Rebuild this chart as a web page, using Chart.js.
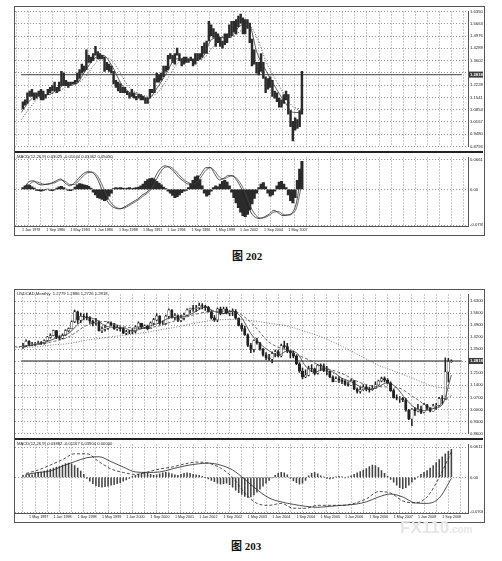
<!DOCTYPE html>
<html>
<head>
<meta charset="utf-8">
<script src="https://cdn.jsdelivr.net/npm/chart.js@4.4.0/dist/chart.umd.min.js"></script>
<style>
  body { margin: 0; background: #fff; width: 502px; height: 561px; position: relative; overflow: hidden; }
  canvas { position: absolute; }
  .frame { position: absolute; border: 1px solid #555; }
  .sep { position: absolute; background: #222; }
  .cap { position: absolute; font: bold 11px "Liberation Serif", "Noto Sans CJK SC", serif; color: #111; white-space: nowrap; }
  .wm { position: absolute; font: bold 17px "Liberation Sans", sans-serif; color: #e6e6e6; white-space: nowrap; }
</style>
</head>
<body>

<div class="frame" style="left:14px;top:6px;width:469px;height:228px"></div>
<canvas id="price1" width="468" height="144" style="left:15px;top:7px"></canvas>
<div class="sep" style="left:15px;top:151px;width:468px;height:2px"></div>
<canvas id="macd1" width="468" height="81" style="left:15px;top:153px"></canvas>
<div class="cap" style="left:232px;top:247px">图 202</div>

<div class="frame" style="left:14px;top:289px;width:469px;height:232px"></div>
<canvas id="price2" width="468" height="148" style="left:15px;top:290px"></canvas>
<div class="sep" style="left:15px;top:438px;width:468px;height:2px"></div>
<canvas id="macd2" width="468" height="81" style="left:15px;top:440px"></canvas>
<div class="cap" style="left:231px;top:537px">图 203</div>
<div class="wm" style="left:400px;top:518px">FX110<span style="font-size:10px">.com</span></div>

<script>
// ---- figure 202: USDCAD monthly 1978-2008, read per quarter ----
const q1Low = [
  1.09,1.11,1.12,1.16, 1.16,1.14,1.15,1.16, 1.14,1.14,1.15,1.17, 1.18,1.19,1.19,1.18,
  1.19,1.22,1.22,1.22, 1.21,1.22,1.23,1.23, 1.24,1.26,1.29,1.30, 1.31,1.35,1.35,1.36,
  1.39,1.37,1.37,1.37, 1.30,1.31,1.30,1.29, 1.23,1.21,1.19,1.18, 1.18,1.18,1.17,1.15,
  1.16,1.15,1.14,1.15, 1.14,1.14,1.12,1.12, 1.15,1.18,1.18,1.24, 1.24,1.25,1.27,1.30,
  1.31,1.37,1.35,1.34, 1.39,1.36,1.33,1.34, 1.35,1.35,1.36,1.33, 1.34,1.36,1.37,1.38,
  1.40,1.40,1.47,1.50, 1.49,1.44,1.46,1.44, 1.43,1.45,1.46,1.49, 1.50,1.52,1.51,1.55,
  1.57,1.51,1.51,1.54, 1.46,1.33,1.34,1.29, 1.28,1.30,1.26,1.18, 1.20,1.21,1.16,1.15,
  1.13,1.10,1.10,1.12, 1.14,1.06,0.99,0.91, 0.97,0.98,0.99,1.06
];
const q1High = [
  1.13,1.14,1.18,1.19, 1.20,1.18,1.18,1.19, 1.20,1.19,1.17,1.20, 1.21,1.22,1.24,1.21,
  1.24,1.30,1.29,1.25, 1.24,1.24,1.24,1.25, 1.29,1.31,1.34,1.33, 1.42,1.39,1.38,1.40,
  1.44,1.41,1.40,1.39, 1.38,1.35,1.34,1.33, 1.30,1.25,1.24,1.23, 1.21,1.21,1.19,1.18,
  1.20,1.18,1.16,1.17, 1.17,1.16,1.15,1.15, 1.20,1.20,1.26,1.29, 1.28,1.29,1.33,1.33,
  1.39,1.40,1.39,1.40, 1.43,1.40,1.37,1.38, 1.38,1.37,1.38,1.37, 1.40,1.40,1.40,1.44,
  1.46,1.47,1.58,1.56, 1.54,1.52,1.51,1.49, 1.47,1.51,1.51,1.56, 1.58,1.58,1.59,1.61,
  1.62,1.60,1.59,1.59, 1.57,1.48,1.42,1.35, 1.35,1.40,1.35,1.27, 1.26,1.27,1.25,1.19,
  1.18,1.15,1.14,1.17, 1.19,1.17,1.08,1.02, 1.04,1.03,1.08,1.30
];
// moving averages at year ends (Dec 1977 .. Dec 2008)
const ma1Fast = [1.07,1.14,1.17,1.17,1.20,1.23,1.23,1.30,1.37,1.39,1.33,1.23,1.18,1.17,1.15,1.21,
  1.29,1.37,1.37,1.36,1.38,1.48,1.49,1.49,1.55,1.57,1.40,1.30,1.21,1.13,1.07,1.07];
const ma1Slow = [1.03,1.10,1.155,1.17,1.185,1.215,1.23,1.265,1.335,1.38,1.36,1.28,1.205,1.175,1.16,1.18,
  1.25,1.33,1.37,1.365,1.37,1.43,1.485,1.49,1.52,1.56,1.485,1.35,1.255,1.17,1.10,1.09];
// MACD lines per half year, histogram per quarter
const macd1Main = [0.004,0.017,0.019,0.012,0.010,0.012,0.014,0.019,0.023,0.014,
  0.008,0.014,0.025,0.035,0.039,0.037,0.025,0.002,-0.021,-0.035,
  -0.041,-0.043,-0.039,-0.033,-0.027,-0.021,-0.012,-0.006,0.008,0.031,
  0.046,0.052,0.048,0.039,0.027,0.019,0.012,0.012,0.021,0.035,
  0.048,0.048,0.033,0.021,0.025,0.031,0.029,0.017,-0.002,-0.029,
  -0.052,-0.062,-0.064,-0.060,-0.054,-0.046,-0.052,-0.058,-0.056,-0.052,
  -0.027,0.039];
const macd1Signal = [0.002,0.010,0.017,0.016,0.012,0.011,0.013,0.016,0.021,0.018,
  0.011,0.011,0.019,0.030,0.037,0.038,0.031,0.013,-0.010,-0.028,
  -0.038,-0.042,-0.041,-0.036,-0.030,-0.024,-0.016,-0.009,0.001,0.020,
  0.038,0.049,0.050,0.044,0.033,0.023,0.016,0.012,0.016,0.028,
  0.042,0.048,0.040,0.027,0.023,0.028,0.030,0.022,0.007,-0.016,
  -0.041,-0.057,-0.063,-0.062,-0.057,-0.050,-0.049,-0.055,-0.057,-0.054,
  -0.040,0.006];
const macd1Hist = [
  0.004,0.008,0.010,0.009,0.006,0.003,
  -0.002,-0.003,-0.004,-0.002,-0.001,0.001,-0.002,-0.003,-0.001,
  0.003,0.006,0.007,0.004,0.001, -0.002,-0.003,-0.001,
  0.005,0.010,0.013,0.012,0.010,0.009,0.007,0.003,
  -0.006,-0.012,-0.018,-0.020,-0.022,-0.025,-0.022,-0.015,-0.008,
  0.002,0.004,0.003,0.004,0.003,0.002,0.003,0.004,0.002,
  0.003,0.004,0.005,0.008,0.012,
  0.018,0.022,0.024,0.025,0.022,0.018,0.014,0.010,
  0.005,0.002,-0.004,-0.008, -0.013,-0.018,-0.016,-0.012,-0.007,
  -0.004,-0.002,0.004, 0.012,0.020,0.028,0.030,0.022,
  0.008,-0.008,-0.015,-0.012,-0.004, 0.004,0.008,0.006,
  0.012,0.018,0.020,0.016,0.008,
  -0.006,-0.018,-0.030,-0.040,-0.050, -0.058,-0.060,-0.055,-0.045,-0.032,
  -0.020,-0.008,0.004, 0.012,0.015,0.006, -0.008,-0.015,-0.012,-0.004,
  0.008,0.016,0.018,0.012,0.004, -0.012,-0.025,-0.030,-0.018,
  0.020,0.045,0.062
];
const price1Ticks = [1.6350,1.5663,1.4976,1.4289,1.3602,1.2915,1.2228,1.1541,1.0854,1.0167,0.9480,0.8793];
const macd1Ticks = [0.06617, 0, -0.07910];
const macd1TickText = ['0.06617', '0.00', '-0.07910'];

// ---- figure 203: USDCAD monthly Mar 1997 .. Dec 2008 ----
const c2FirstOpen = 1.365;
const c2Close = [
  1.370,1.396,1.378,1.381,1.383,1.388,1.384,1.401,1.420,1.430,
  1.458,1.418,1.415,1.432,1.458,1.470,1.510,1.567,1.519,1.541,1.540,1.532,
  1.513,1.502,1.510,1.458,1.467,1.472,1.502,1.490,1.470,1.472,1.470,1.443,
  1.451,1.450,1.453,1.480,1.502,1.478,1.486,1.470,1.502,1.521,1.543,1.500,
  1.500,1.542,1.577,1.537,1.546,1.518,1.531,1.549,1.578,1.588,1.586,1.592,
  1.604,1.600,1.594,1.568,1.532,1.521,1.583,1.558,1.584,1.560,1.569,1.571,
  1.530,1.489,1.470,1.434,1.372,1.350,1.401,1.387,1.350,1.317,1.300,1.292,
  1.325,1.337,1.311,1.371,1.365,1.338,1.328,1.310,1.265,1.222,1.189,1.199,
  1.238,1.236,1.210,1.256,1.254,1.226,1.222,1.190,1.162,1.178,1.170,1.163,
  1.145,1.140,1.167,1.117,1.104,1.115,1.131,1.118,1.115,1.122,1.143,1.165,
  1.180,1.170,1.153,1.109,1.069,1.065,1.066,1.056,0.995,0.945,1.000,0.991,
  1.002,0.982,1.027,1.006,0.990,1.019,1.024,1.063,1.062,1.218,1.278,1.2818
];
const c2High = [
  1.385,1.405,1.400,1.390,1.390,1.398,1.395,1.405,1.425,1.440,
  1.462,1.460,1.430,1.440,1.465,1.475,1.515,1.578,1.572,1.560,1.555,1.560,
  1.540,1.520,1.530,1.515,1.480,1.490,1.510,1.510,1.500,1.490,1.480,1.475,
  1.460,1.460,1.470,1.487,1.510,1.500,1.492,1.490,1.510,1.530,1.558,1.545,
  1.515,1.548,1.585,1.580,1.558,1.550,1.550,1.560,1.585,1.590,1.605,1.605,
  1.618,1.615,1.605,1.600,1.575,1.545,1.590,1.595,1.595,1.595,1.575,1.585,
  1.580,1.533,1.500,1.485,1.440,1.385,1.405,1.415,1.390,1.355,1.330,1.320,
  1.335,1.345,1.345,1.380,1.398,1.385,1.345,1.340,1.315,1.272,1.240,1.230,
  1.252,1.260,1.240,1.262,1.265,1.265,1.250,1.220,1.195,1.190,1.190,1.180,
  1.170,1.160,1.177,1.168,1.125,1.130,1.145,1.140,1.130,1.140,1.160,1.170,
  1.188,1.190,1.180,1.160,1.120,1.085,1.075,1.070,1.065,1.000,1.005,1.010,
  1.030,1.020,1.035,1.030,1.010,1.030,1.035,1.070,1.080,1.300,1.297,1.2886
];
const c2Low = [
  1.355,1.365,1.370,1.370,1.372,1.380,1.378,1.380,1.398,1.415,
  1.427,1.412,1.405,1.410,1.430,1.450,1.468,1.505,1.500,1.505,1.520,1.520,
  1.500,1.486,1.490,1.455,1.447,1.455,1.465,1.485,1.465,1.460,1.455,1.440,
  1.435,1.440,1.440,1.445,1.470,1.470,1.470,1.463,1.470,1.495,1.515,1.495,
  1.495,1.495,1.530,1.530,1.520,1.510,1.510,1.520,1.545,1.560,1.570,1.570,
  1.585,1.585,1.575,1.565,1.525,1.512,1.510,1.550,1.555,1.555,1.545,1.545,
  1.525,1.485,1.455,1.430,1.365,1.330,1.335,1.380,1.345,1.310,1.290,1.285,
  1.270,1.305,1.305,1.305,1.355,1.330,1.300,1.300,1.260,1.215,1.177,1.185,
  1.195,1.220,1.200,1.205,1.225,1.220,1.200,1.185,1.160,1.162,1.155,1.150,
  1.140,1.135,1.140,1.115,1.095,1.095,1.110,1.107,1.100,1.110,1.120,1.140,
  1.160,1.160,1.148,1.105,1.065,1.055,1.040,1.045,0.990,0.940,0.906,0.965,
  0.985,0.975,0.980,0.998,0.985,0.990,1.000,1.020,1.030,1.058,1.160,1.2726
];
// quarter ends from Mar 1997, half-year ends from Dec 1996
const ma2Fast = [1.366,1.374,1.385,1.401,1.424,1.442,1.493,1.535,1.523,1.487,1.477,1.475,1.457,1.469,1.487,1.504,
  1.531,1.537,1.544,1.571,1.594,1.570,1.558,1.571,1.532,1.441,1.382,1.341,1.314,1.341,1.330,1.252,
  1.216,1.237,1.218,1.181,1.161,1.132,1.117,1.132,1.156,1.125,1.060,1.009,0.992,1.005,1.028,1.200];
const ma2Mid = [1.364,1.371,1.391,1.422,1.489,1.511,1.481,1.472,1.487,1.521,1.554,1.571,1.571,1.506,1.391,1.341,
  1.297,1.245,1.209,1.156,1.132,1.128,1.067,1.007,1.080];
const ma2Slow = [1.360,1.362,1.374,1.383,1.403,1.417,1.431,1.444,1.462,1.481,1.503,1.519,1.523,1.517,1.501,1.485,
  1.453,1.416,1.367,1.312,1.257,1.217,1.176,1.134,1.122];
// MACD lines every 4 months from Apr 1997, histogram monthly
const macd2Dash = [0.008,0.015,0.025,0.036,0.048,0.048,0.032,0.017,0.010,0.006,
  0.011,0.017,0.021,0.027,0.031,0.029,0.019,0.000,-0.032,-0.053,
  -0.057,-0.053,-0.063,-0.063,-0.057,-0.057,-0.057,-0.053,-0.044,-0.029,
  -0.032,-0.048,-0.052,-0.040,0.000,0.052];
const macd2Solid = [0.006,0.010,0.013,0.023,0.032,0.040,0.042,0.032,0.021,0.011,
  0.010,0.011,0.017,0.023,0.027,0.029,0.025,0.015,-0.004,-0.025,
  -0.042,-0.050,-0.055,-0.059,-0.061,-0.059,-0.057,-0.055,-0.050,-0.040,
  -0.034,-0.040,-0.052,-0.053,-0.042,-0.002];
const macd2Hist = [
  0.004,0.005,0.006,0.005,
  0.008,0.010,0.011,0.013,0.015,0.017,0.019,0.021,0.022,
  0.025,0.028,0.029,0.027,0.024,0.019,0.013,
  0.006,-0.002,-0.008,
  -0.013,-0.017,-0.019,-0.020,-0.019,-0.018,-0.016,-0.015,-0.013,-0.011,-0.008,-0.005,-0.002,
  0.002,0.004,0.006,0.008,0.009,0.008,0.006,0.004,0.005,0.007,0.009,0.010,0.009,0.007,0.005,0.004,
  0.006,0.008,0.009,0.008,0.006,0.005,0.004,0.002,0.000,
  -0.003,-0.006,-0.009,-0.012,-0.014,-0.013,-0.012,-0.015,
  -0.020,-0.026,-0.031,-0.035,-0.039,-0.041,-0.040,-0.036,-0.030,-0.024,
  -0.018,-0.012,-0.006,-0.001,
  0.004,0.008,0.010,0.009,0.005,
  -0.002,-0.007,-0.011,-0.014,-0.012,-0.006,
  0.003,0.008,0.010,0.007,
  0.003,0.001,-0.002,-0.003,-0.002,0.001,0.002,0.001,-0.001,0.001,0.003,
  0.006,0.009,0.012,0.015,0.018,0.022,0.025,0.024,0.020,0.014,
  0.008,0.002,-0.004,
  -0.010,-0.016,-0.021,-0.023,-0.021,-0.016,-0.010,
  -0.004,0.001,0.006,0.010,0.014,
  0.019,0.024,0.030,0.036,0.042,0.048,0.053,0.057
];
const price2Ticks = [1.63,1.56,1.49,1.42,1.35,1.28,1.21,1.14,1.07,1.00,0.93,0.86];
const macd2Ticks = [0.06117, 0, -0.07060];
const macd2TickText = ['0.06117', '0.00', '-0.07060'];

const bid = 1.2818;
const MONTHS = ['Jan','Feb','Mar','Apr','May','Jun','Jul','Aug','Sep','Oct','Nov','Dec'];

const INK = '#222';
const GRID = '#7a7a7a';
const yFont = { size: 4.2, family: 'Liberation Sans' };
const xFont = { size: 3.7, family: 'Liberation Sans' };

function monthLabel(baseYear, m) {
  return '1 ' + MONTHS[m % 12] + ' ' + (baseYear + Math.floor(m / 12));
}

function range(from, to, step) {
  const out = [];
  for (let v = from; v <= to; v += step) out.push(v);
  return out;
}

// small text in the top left corner of a panel
function headerPlugin(text) {
  return {
    id: 'header',
    afterDraw(chart) {
      const ctx = chart.ctx;
      ctx.save();
      ctx.font = '4.2px "Liberation Sans"';
      ctx.fillStyle = INK;
      ctx.textBaseline = 'top';
      ctx.fillText(text, 2, 2);
      ctx.restore();
    }
  };
}

// dark box with the current price on the right axis
const bidTag = {
  id: 'bidTag',
  afterDraw(chart) {
    const ctx = chart.ctx;
    const y = chart.scales.y.getPixelForValue(bid);
    const x0 = chart.chartArea.right;
    ctx.save();
    ctx.fillStyle = '#3a3a3a';
    ctx.fillRect(x0 + 1, y - 3, 14, 6);
    ctx.fillStyle = '#fff';
    ctx.font = 'bold 4.2px "Liberation Sans"';
    ctx.textBaseline = 'middle';
    ctx.fillText(bid.toFixed(4), x0 + 2, y + 0.3);
    ctx.restore();
  }
};

function baseOptions(xMin, xMax, gridMonths, labelFn, yMin, yMax, yTicks, yText, showX) {
  return {
    responsive: false,
    animation: false,
    events: [],
    layout: { padding: 0, autoPadding: false },
    plugins: { legend: { display: false }, tooltip: { enabled: false } },
    scales: {
      x: {
        type: 'linear', min: xMin, max: xMax,
        afterBuildTicks: (s) => { s.ticks = gridMonths.map((v) => ({ value: v })); },
        ticks: {
          display: showX, autoSkip: false, maxRotation: 0, align: 'start', padding: 1.5,
          font: xFont, color: INK, callback: labelFn
        },
        grid: { color: GRID, lineWidth: 0.8, drawTicks: false },
        border: { display: showX, color: '#555', width: 1, dash: [1, 2] },
        afterFit: (s) => { s.height = showX ? 8 : 0; }
      },
      y: {
        position: 'right', min: yMin, max: yMax,
        afterBuildTicks: (s) => { s.ticks = yTicks.map((v) => ({ value: v })); },
        ticks: { font: yFont, color: INK, padding: 2, callback: (v, i) => yText[i] },
        grid: { color: GRID, lineWidth: 0.8, drawTicks: false },
        border: { display: true, color: '#555', width: 1, dash: [1, 2] },
        afterFit: (s) => { s.width = 15; }
      }
    }
  };
}

// ---------- figure 202 ----------
const x1Min = -1.3, x1Max = 581.5;
const grid1 = range(0, 576, 16);
const label1 = (v) => (v % 32 === 0 && v <= 352) ? monthLabel(1978, v) : '';
const price1Text = price1Ticks.map((v) => Math.abs(v - bid) < 0.02 ? '' : v.toFixed(4));

new Chart(document.getElementById('price1'), {
  type: 'bar',
  data: {
    datasets: [
      { type: 'line', data: [{ x: x1Min, y: bid }, { x: x1Max, y: bid }], borderColor: '#666', borderWidth: 1.4, pointRadius: 0, order: 4 },
      { type: 'bar', data: q1Low.map((lo, i) => ({ x: 1 + 3 * i, y: [lo, q1High[i]] })),
        backgroundColor: '#2b2b2b', barThickness: 1.8, grouped: false, order: 3 },
      { type: 'line', data: ma1Fast.map((v, j) => ({ x: -1 + 12 * j, y: v })), borderColor: '#333', borderWidth: 0.8,
        pointRadius: 0, cubicInterpolationMode: 'monotone', order: 1 },
      { type: 'line', data: ma1Slow.map((v, j) => ({ x: -1 + 12 * j, y: v })), borderColor: '#444', borderWidth: 0.8,
        borderDash: [1.2, 1.6], pointRadius: 0, cubicInterpolationMode: 'monotone', order: 2 }
    ]
  },
  options: baseOptions(x1Min, x1Max, grid1, () => '', 0.8793, 1.6350, price1Ticks, price1Text, false),
  plugins: [bidTag]
});

new Chart(document.getElementById('macd1'), {
  type: 'bar',
  data: {
    datasets: [
      { type: 'bar', data: macd1Hist.map((v, i) => ({ x: 1 + 3 * i, y: v })), backgroundColor: '#2b2b2b',
        barThickness: 2.4, grouped: false, order: 3 },
      { type: 'line', data: macd1Main.map((v, k) => ({ x: 3 + 6 * k, y: v })), borderColor: INK, borderWidth: 0.8,
        pointRadius: 0, cubicInterpolationMode: 'monotone', order: 1 },
      { type: 'line', data: macd1Signal.map((v, k) => ({ x: 3 + 6 * k, y: v })), borderColor: '#444', borderWidth: 0.8,
        pointRadius: 0, cubicInterpolationMode: 'monotone', order: 2 }
    ]
  },
  options: baseOptions(x1Min, x1Max, grid1, label1, -0.0807, 0.0704, macd1Ticks, macd1TickText, true),
  plugins: [headerPlugin('MACD(12,26,9) 0.03025 -0.01044 0.03462 0.05050')]
});

// ---------- figure 203 ----------
const x2Min = 1.44, x2Max = 146.4;
const grid2 = range(4, 144, 4);
const label2 = (v) => (v % 8 === 4) ? monthLabel(1997, v) : '';
const price2Text = price2Ticks.map((v) => Math.abs(v - bid) < 0.02 ? '' : v.toFixed(4));
const c2Open = c2Close.map((c, i) => i === 0 ? c2FirstOpen : c2Close[i - 1]);

new Chart(document.getElementById('price2'), {
  type: 'bar',
  data: {
    datasets: [
      { type: 'line', data: [{ x: x2Min, y: bid }, { x: x2Max, y: bid }], borderColor: '#666', borderWidth: 1.4, pointRadius: 0, order: 6 },
      { type: 'bar', data: c2Low.map((lo, i) => ({ x: i + 2, y: [lo, c2High[i]] })), backgroundColor: INK,
        barThickness: 0.9, grouped: false, order: 5 },
      { type: 'bar', data: c2Close.map((c, i) => ({ x: i + 2, y: [c2Open[i], c] })),
        backgroundColor: c2Close.map((c, i) => c >= c2Open[i] ? '#fff' : INK),
        borderColor: INK, borderWidth: 0.5, borderSkipped: false, barThickness: 2.4, grouped: false, order: 4 },
      { type: 'line', data: ma2Fast.map((v, j) => ({ x: 2 + 3 * j, y: v })), borderColor: '#333', borderWidth: 0.8,
        pointRadius: 0, cubicInterpolationMode: 'monotone', order: 1 },
      { type: 'line', data: ma2Mid.map((v, j) => ({ x: -1 + 6 * j, y: v })), borderColor: '#444', borderWidth: 0.8,
        borderDash: [3, 2], pointRadius: 0, cubicInterpolationMode: 'monotone', order: 2 },
      { type: 'line', data: ma2Slow.map((v, j) => ({ x: -1 + 6 * j, y: v })), borderColor: '#555', borderWidth: 0.8,
        borderDash: [1, 1.6], pointRadius: 0, cubicInterpolationMode: 'monotone', order: 3 }
    ]
  },
  options: baseOptions(x2Min, x2Max, grid2, () => '', 0.86, 1.6682, price2Ticks, price2Text, false),
  plugins: [bidTag, headerPlugin('USDCAD,Monthly  1.2779 1.2886 1.2726 1.2818')]
});

new Chart(document.getElementById('macd2'), {
  type: 'bar',
  data: {
    datasets: [
      { type: 'bar', data: macd2Hist.map((v, i) => ({ x: i + 2, y: v })), backgroundColor: '#444',
        barThickness: 0.9, grouped: false, order: 3 },
      { type: 'line', data: macd2Dash.map((v, j) => ({ x: 3 + 4 * j, y: v })), borderColor: INK, borderWidth: 0.8,
        borderDash: [3, 2], pointRadius: 0, cubicInterpolationMode: 'monotone', order: 1 },
      { type: 'line', data: macd2Solid.map((v, j) => ({ x: 3 + 4 * j, y: v })), borderColor: INK, borderWidth: 0.8,
        pointRadius: 0, cubicInterpolationMode: 'monotone', order: 2 }
    ]
  },
  options: baseOptions(x2Min, x2Max, grid2, label2, -0.0726, 0.0669, macd2Ticks, macd2TickText, true),
  plugins: [headerPlugin('MACD(12,26,9) 0.03882 -0.01167 0.03904 0.00000')]
});
</script>
</body>
</html>
